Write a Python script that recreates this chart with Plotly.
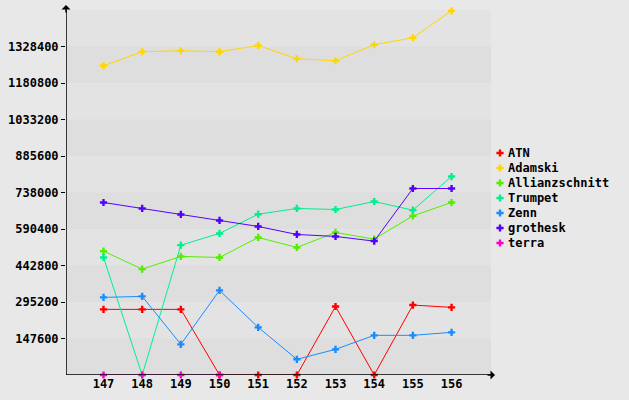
import plotly.graph_objects as go

categories = [147, 148, 149, 150, 151, 152, 153, 154, 155, 156]
ATN = [265400, 265400, 265400, 0, 0, 0, 277100, 0, 282800, 273500]
Adamski = [1250600, 1307200, 1311200, 1307200, 1332600, 1278900, 1270800, 1335500, 1363700, 1472800]
Allianzschnitt = [500900, 428200, 479500, 475400, 556200, 515800, 576400, 549400, 643500, 697600]
Trumpet = [475400, 0, 525100, 572400, 650300, 673400, 669300, 701600, 666500, 802600]
Zenn = [313900, 317900, 124000, 342100, 192700, 63400, 103800, 160400, 160400, 172500]
grothesk = [697600, 673400, 649200, 624900, 600700, 568300, 560300, 541300, 754200, 754200]
terra = [0, 0, 0, 0, None, None, None, None, None, None]
tick_vals = [147600 * i for i in range(1, 10)]
tick_text = [str(v) for v in tick_vals]

series = [
    ("ATN", ATN, "#ff0000"),
    ("Adamski", Adamski, "#ffd700"),
    ("Allianzschnitt", Allianzschnitt, "#55ee00"),
    ("Trumpet", Trumpet, "#00f090"),
    ("Zenn", Zenn, "#1a8cff"),
    ("grothesk", grothesk, "#5500ff"),
    ("terra", terra, "#ff00cc"),
]

FONT = "DejaVu Sans Mono"
W, H = 629, 400
L, R, T, B = 66, 0, 10, 25
plot_right = 491
dom_end = (plot_right - L) / (W - L - R)

fig = go.Figure()
for name, vals, col in series:
    fig.add_trace(go.Scatter(x=categories, y=vals, mode="lines+markers", name=name,
                             line=dict(color=col, width=1),
                             marker=dict(symbol="cross", size=6, color=col),
                             showlegend=False, connectgaps=False, cliponaxis=False))

# manual legend in pixel coordinates on a full-area axis pair
leg_x = 500
leg_y0 = 153
leg_dy = 15
annotations = []
for i, (name, vals, col) in enumerate(series):
    yy = leg_y0 + i * leg_dy
    fig.add_trace(go.Scatter(x=[leg_x], y=[yy], xaxis="x2", yaxis="y2", mode="markers",
                             marker=dict(symbol="cross", size=6, color=col),
                             showlegend=False, hoverinfo="skip"))
    annotations.append(dict(xref="x2", yref="y2", x=leg_x + 6, y=yy, text=name,
                            showarrow=False, xanchor="left", yanchor="middle",
                            font=dict(family=FONT, size=12, color="#000000", weight="bold")))

shapes = [dict(type="rect", xref="x domain", yref="y domain", x0=0, x1=1, y0=0, y1=1,
               fillcolor="#e3e3e3", line=dict(width=0), layer="below")]
step = 147600
for k in range(10):
    if k % 2 == 0:
        shapes.append(dict(type="rect", xref="x domain", yref="y", x0=0, x1=1,
                           y0=k * step, y1=(k + 1) * step, fillcolor="#dedede",
                           line=dict(width=0), layer="below"))
# axis lines (below traces)
shapes += [
    dict(type="line", xref="x2", yref="y2", x0=L, x1=L, y0=375, y1=6,
         line=dict(color="#000000", width=1.5), layer="below"),
    dict(type="line", xref="x2", yref="y2", x0=L, x1=494, y0=375, y1=375,
         line=dict(color="#000000", width=1.5), layer="below"),
]

annotations += [
    dict(xref="x2", yref="y2", x=L, y=5, ax=L, ay=14, axref="x2", ayref="y2",
         showarrow=True, arrowhead=1, arrowsize=1, arrowwidth=1.5, arrowcolor="#000000", text=""),
    dict(xref="x2", yref="y2", x=495, y=375, ax=486, ay=375, axref="x2", ayref="y2",
         showarrow=True, arrowhead=1, arrowsize=1, arrowwidth=1.5, arrowcolor="#000000", text=""),
]

fig.update_layout(
    width=W, height=H,
    margin=dict(l=L, r=R, t=T, b=B),
    paper_bgcolor="#e8e8e8", plot_bgcolor="rgba(0,0,0,0)",
    font=dict(family=FONT, size=12, color="#000000", weight="bold"),
    shapes=shapes,
    showlegend=False,
    xaxis=dict(domain=[0, dom_end], range=[146.03, 157.02], tickmode="array", tickvals=categories,
               ticktext=[str(c) for c in categories], showgrid=False, zeroline=False,
               showline=False, ticks="", tickfont=dict(family=FONT, size=12, weight="bold")),
    yaxis=dict(range=[0, 1476000], tickmode="array", tickvals=tick_vals, ticktext=tick_text,
               showgrid=False, zeroline=False, showline=False, ticks="outside", ticklen=4,
               tickcolor="#000000", tickwidth=1,
               tickfont=dict(family=FONT, size=12, weight="bold")),
    xaxis2=dict(domain=[0, 1], range=[L, W - R], anchor="y2", visible=False,
                fixedrange=True),
    yaxis2=dict(domain=[0, 1], range=[H - B, T], anchor="x2", visible=False,
                fixedrange=True),
    annotations=annotations,
)
fig.write_html("out.html")
